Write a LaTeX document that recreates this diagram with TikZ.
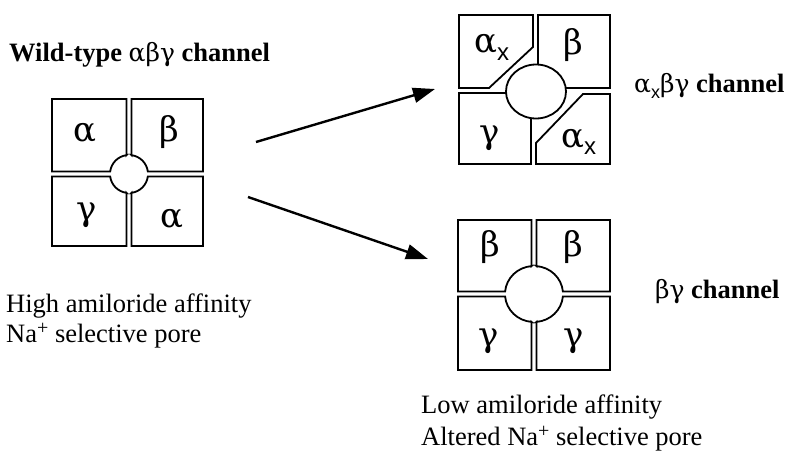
\documentclass[tikz,border=0pt]{standalone}
\usepackage{fontspec}
\setmainfont{Liberation Serif}
\setsansfont{Liberation Sans}
\newfontfamily\grk{DejaVu Serif}
\usetikzlibrary{arrows.meta}
\newcommand\qbox[2]{%
  \draw[boxline] (\qgp,{\qry*sin(acos(\qgp/\qrx))}) -- (\qgp,#2) -- (#1,#2) -- (#1,\qgp)
    -- ({\qrx*cos(asin(\qgp/\qry))},\qgp)
    arc[start angle={asin(\qgp/\qry)}, end angle={acos(\qgp/\qrx)}, x radius=\qrx, y radius=\qry] -- cycle;}
\newcommand\tetra[8]{% center x, center y, rx, ry, Wl, Wr, Ht, Hb
  \begin{scope}[shift={(#1,#2)}]
    \def\qgp{2.5}\def\qrx{#3}\def\qry{#4}%
    \qbox{#6}{#8}
    \begin{scope}[yscale=-1]\qbox{#6}{#7}\end{scope}
    \begin{scope}[xscale=-1]\qbox{#5}{#8}\end{scope}
    \begin{scope}[xscale=-1,yscale=-1]\qbox{#5}{#7}\end{scope}
  \end{scope}}
\newcommand\subx[1]{\raisebox{-0.22em}{\sffamily\fontsize{#1}{#1}\selectfont x}}
\newcommand\plusup{\raisebox{0.3em}{\fontsize{20}{20}\selectfont +}}
\begin{document}
\begin{tikzpicture}[x=1pt,y=-1pt,
  boxline/.style={line width=1.8pt, line join=miter},
  lbl/.style={font=\fontsize{26.5}{30}\selectfont, anchor=base west, inner sep=0pt},
  greek/.style={font=\grk\fontsize{34}{34}\selectfont, anchor=base, inner sep=0pt},
  arr/.style={line width=2.4pt, -{Triangle[length=22pt,width=15pt]}}]
\useasboundingbox (0,0) rectangle (788,460);

% left tetramer (wild type)
\tetra{129}{174}{19}{19}{77}{74}{75}{72}
\node[greek] (la1) at (85,142) {α};
\node[greek] (lb) at (169,142) {β};
\node[greek] (lg) at (87,220) {γ};
\node[greek] (la2) at (172,227) {α};

% alpha_x tetramer
\draw[boxline] (459,15) -- (533,15) -- (533,47) -- (489,88) -- (459,88) -- cycle;
\draw[boxline] (538,15) -- (610,15) -- (610,88) -- (538,88) -- cycle;
\draw[boxline] (459,93) -- (531,93) -- (531,164) -- (459,164) -- cycle;
\draw[boxline] (536,164) -- (536,143) -- (583,94) -- (610,94) -- (610,164) -- cycle;
\draw[boxline, fill=white] (536,91.5) ellipse[x radius=30, y radius=27];
\node[greek, anchor=base west] (xa1) at (474,53) {α\subx{24}};
\node[greek] (xb) at (573,55) {β};
\node[greek] (xg) at (490,143) {γ};
\node[greek, anchor=base west] (xa2) at (561,147) {α\subx{24}};

% beta gamma tetramer
\tetra{534}{294}{29}{28}{76}{76}{74}{76}
\node[greek] (bb1) at (490,256) {β};
\node[greek] (bb2) at (573,256) {β};
\node[greek] (bg1) at (489,346) {γ};
\node[greek] (bg2) at (574,346) {γ};

% arrows
\coordinate (a1s) at (256,142);
\coordinate (a1e) at (435,89);
\coordinate (a2s) at (248,197);
\coordinate (a2e) at (428,259);
\draw[arr] (a1s) -- (a1e);
\draw[arr] (a2s) -- (a2e);

% texts
\node[lbl] (title) at (9,62) {\textbf{Wild-type} {\grk\fontsize{25}{30}\selectfont αβγ} \textbf{channel}};
\node[lbl] (t1) at (6,312) {High amiloride affinity};
\node[lbl] (t2) at (6,342) {Na\plusup{} selective pore};
\node[lbl] (xlab) at (634,93) {{\grk\fontsize{25}{30}\selectfont α}\subx{18}{\grk\fontsize{25}{30}\selectfont βγ} \textbf{channel}};
\node[lbl] (blab) at (655,298) {{\grk\fontsize{25}{30}\selectfont βγ} \textbf{channel}};
\node[lbl] (t3) at (421,413) {Low amiloride affinity};
\node[lbl] (t4) at (421,445) {Altered Na\plusup{} selective pore};
\end{tikzpicture}
\end{document}
